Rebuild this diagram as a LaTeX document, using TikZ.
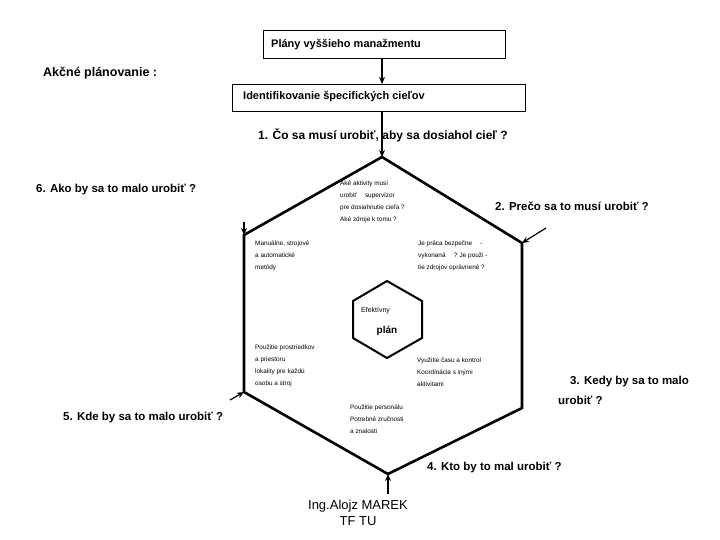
\documentclass[tikz,border=0pt]{standalone}
\usepackage{fontspec}
\setmainfont{Liberation Sans}
\usetikzlibrary{arrows.meta}
\begin{document}
\begin{tikzpicture}[x=1pt,y=-1pt,
  hex/.style={line width=2.6pt, line join=miter},
  lbl/.style={font=\bfseries\fontsize{11.5}{14}\selectfont, anchor=west, inner sep=0pt},
  tiny/.style={font=\fontsize{6.4}{12}\selectfont, anchor=north west, align=left, inner sep=0pt},
  boxed/.style={draw, line width=0.8pt, inner sep=0pt},
  arr/.style={-{Stealth[length=7pt,width=6pt]}, line width=1.2pt}]
\useasboundingbox (0,0) rectangle (720,540);
% top boxes
\node[boxed, minimum width=242pt, minimum height=28pt, anchor=north west] (box1) at (263,30) {};
\node[lbl, font=\bfseries\fontsize{11}{13}\selectfont] (t1) at (271,45) {Plány vyššieho manažmentu};
\node[boxed, minimum width=293pt, minimum height=27pt, anchor=north west] (box2) at (232,84) {};
\node[lbl, font=\bfseries\fontsize{11}{13}\selectfont] (t2) at (243,97) {Identifikovanie špecifických cieľov};
\node[lbl, font=\bfseries\fontsize{12.5}{14}\selectfont] (akc) at (43,73) {Akčné plánovanie :};
% big hexagon
\coordinate (T) at (382,157);
\coordinate (UR) at (522,243);
\coordinate (LR) at (522,408);
\coordinate (B) at (388,474);
\coordinate (LL) at (244,392);
\coordinate (UL) at (244,235);
\draw[hex] (T) -- (UR) -- (LR) -- (B) -- (LL) -- (UL) -- cycle;
% small hexagon
\coordinate (sT) at (387,281);
\coordinate (sUR) at (422,301);
\coordinate (sLR) at (422,338);
\coordinate (sB) at (387,358);
\coordinate (sLL) at (353,338);
\coordinate (sUL) at (353,301);
\draw[hex, line width=2pt] (sT) -- (sUR) -- (sLR) -- (sB) -- (sLL) -- (sUL) -- cycle;
\node[font=\fontsize{7}{8}\selectfont, anchor=west, inner sep=0pt] (ef) at (361,311) {Efektívny};
\node[font=\bfseries\fontsize{10}{12}\selectfont, inner sep=0pt] (pl) at (387,331) {plán};
% arrows
\draw[arr] (box1.south -| T) -- (box2.north -| T);
\draw[arr] (box2.south -| T) -- (T);
\coordinate (aUR) at (546,228);
\draw[arr] (aUR) -- (UR);
\coordinate (aUL) at (244,222);
\draw[arr] (aUL) -- (UL);
\coordinate (aLL) at (230,400);
\draw[arr] (aLL) -- (LL);
\coordinate (aB) at (388,494);
\draw[arr] (aB) -- (B);
% question labels
\node[lbl, font=\bfseries\fontsize{12}{14}\selectfont] (q1) at (258,135) {1. Čo sa musí urobiť, aby sa dosiahol cieľ ?};
\node[lbl] (q6) at (36,190) {6. Ako by sa to malo urobiť ?};
\node[lbl] (q2) at (495,206) {2. Prečo sa to musí urobiť ?};
\node[lbl] (q3a) at (570,382) {3. Kedy by sa to malo};
\node[lbl] (q3b) at (558,400) {urobiť ?};
\node[lbl] (q5) at (63,418) {5. Kde by sa to malo urobiť ?};
\node[lbl] (q4) at (427,468) {4. Kto by to mal urobiť ?};
\node[font=\fontsize{13}{16}\selectfont, align=center, inner sep=0pt] (auth) at (358,513) {Ing.Alojz MAREK\\TF TU};
% small texts
\node[tiny] (s1) at (340,181) {Aké aktivity musí\\urobiť \quad supervízor\\pre dosiahnutie cieľa ?\\Aké zdroje k tomu ?};
\node[tiny] (s2) at (255,241) {Manuálne, strojové\\a automatické\\metódy};
\node[tiny] (s3) at (418,241) {Je práca bezpečne \quad -\\vykonaná \quad ? Je použi -\\tie zdrojov oprávnené ?};
\node[tiny] (s4) at (255,345) {Použitie prostriedkov\\a priestoru\\lokality pre každú\\osobu a stroj};
\node[tiny] (s5) at (417,358) {Využitie času a kontrol\\Koordinácia s inými\\aktivitami};
\node[tiny] (s6) at (350,405) {Použitie personálu\\Potrebné zručnosti\\a znalosti};
\end{tikzpicture}
\end{document}
